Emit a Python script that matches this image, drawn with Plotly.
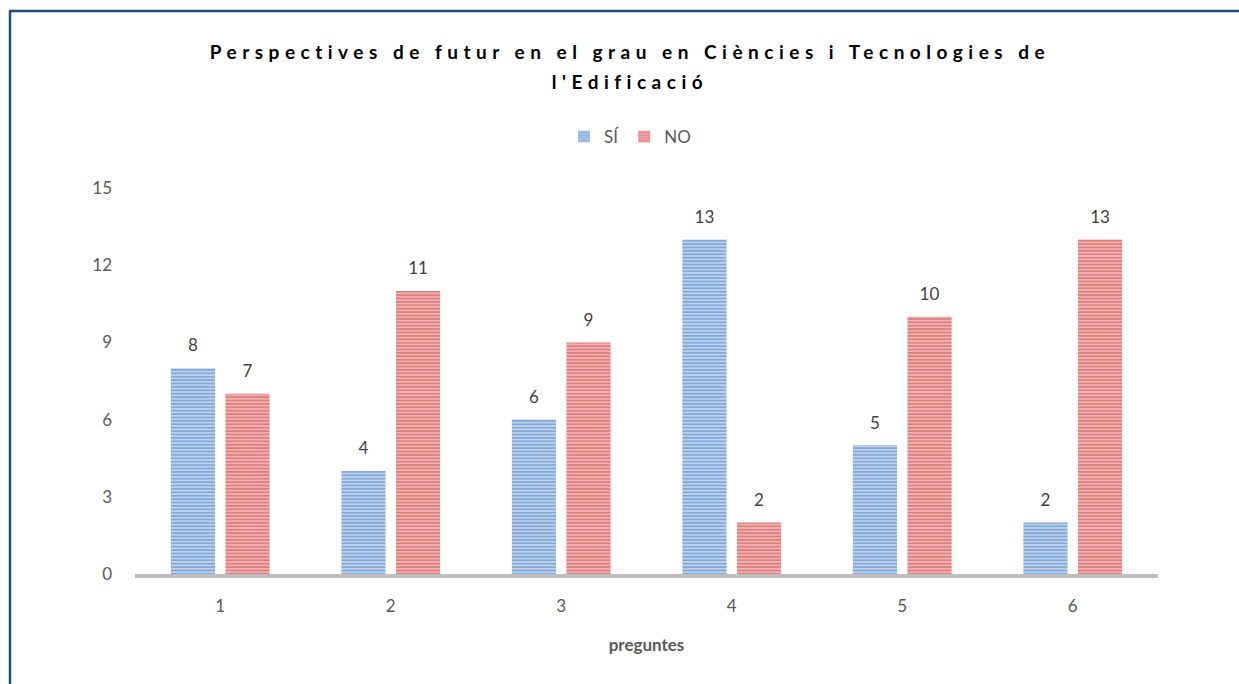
import plotly.graph_objects as go

# Survey answers per question
preguntes = ["1", "2", "3", "4", "5", "6"]
si_values = [8, 4, 6, 13, 5, 2]
no_values = [7, 11, 9, 2, 10, 13]
y_ticks = [0, 3, 6, 9, 12, 15]

TITLE = ("<span style='font-size:19px'>Perspectives de futur en el grau en Ciències i Tecnologies de"
         "<br>l'Edificació</span>")
GREY_TEXT = "#595959"
FONT = "Lato"

# plot area in pixels, used to place the frame lines around the chart
W, H = 1239, 684
L, R, T, B = 135, 81, 188, 110


def px_x(p):
    return (p - L) / (W - L - R)


def px_y(p):
    return (H - B - p) / (H - T - B)


# a small blank line under each value label lifts it off the bar top
label_tpl = "<span style='font-size:17px'>%{y}</span><br>\u00a0"

fig = go.Figure()
fig.add_trace(go.Bar(
    x=preguntes, y=si_values, name="SÍ",
    texttemplate=label_tpl, textposition="outside",
    marker=dict(
        color="#bcd2ee",
        line=dict(width=0),
        pattern=dict(shape="-", fgcolor="#4a7ebb", size=3.4, solidity=0.5, fillmode="overlay"),
    ),
))
fig.add_trace(go.Bar(
    x=preguntes, y=no_values, name="NO",
    texttemplate=label_tpl, textposition="outside",
    marker=dict(
        color="#f4b0af",
        line=dict(width=0),
        pattern=dict(shape="-", fgcolor="#c0504d", size=3.4, solidity=0.5, fillmode="overlay"),
    ),
))

fig.update_traces(textfont=dict(family=FONT, size=9, color="#404040"), cliponaxis=False)

fig.update_layout(
    width=W, height=H,
    margin=dict(l=L, r=R, t=T, b=B, autoexpand=False),
    paper_bgcolor="white", plot_bgcolor="white",
    font=dict(family=FONT, color=GREY_TEXT),
    barmode="group", bargap=0.36, bargroupgap=0.19,
    title=dict(
        text=TITLE, x=px_x(630), xref="paper", xanchor="center",
        y=1 - 59 / H, yanchor="middle",
        font=dict(family=FONT, size=23, weight="bold", color="#000000"),
    ),
    legend=dict(
        orientation="h", x=px_x(630), xanchor="center", y=px_y(137), yanchor="middle",
        font=dict(family=FONT, size=17, color=GREY_TEXT),
        itemwidth=30, tracegroupgap=0,
    ),
    showlegend=True,
    shapes=[
        dict(type="line", xref="paper", yref="paper",
             x0=px_x(10), x1=px_x(10), y0=px_y(11), y1=px_y(700),
             line=dict(color="#1f4e79", width=2.5)),
        dict(type="line", xref="paper", yref="paper",
             x0=px_x(9), x1=px_x(1260), y0=px_y(11), y1=px_y(11),
             line=dict(color="#1f4e79", width=2.5)),
    ],
)

fig.update_xaxes(
    showgrid=False, showline=True, linecolor="#bfbfbf", linewidth=4,
    tickfont=dict(family=FONT, size=17, color=GREY_TEXT),
    ticks="", ticklabelstandoff=14,
    title=dict(text="<b>preguntes</b>", font=dict(family=FONT, size=17, color=GREY_TEXT), standoff=25),
)
fig.update_yaxes(
    range=[0, 15], tickvals=y_ticks, showgrid=False, zeroline=False, showline=False,
    tickfont=dict(family=FONT, size=17, color=GREY_TEXT),
    ticks="", ticklabelstandoff=22,
)

post = """
document.body.style.margin = '0';
document.querySelectorAll('.gtitle').forEach(function(e){ e.style.letterSpacing = '5.5px'; });
"""
fig.write_html("out.html", post_script=post, config={"displayModeBar": False})
